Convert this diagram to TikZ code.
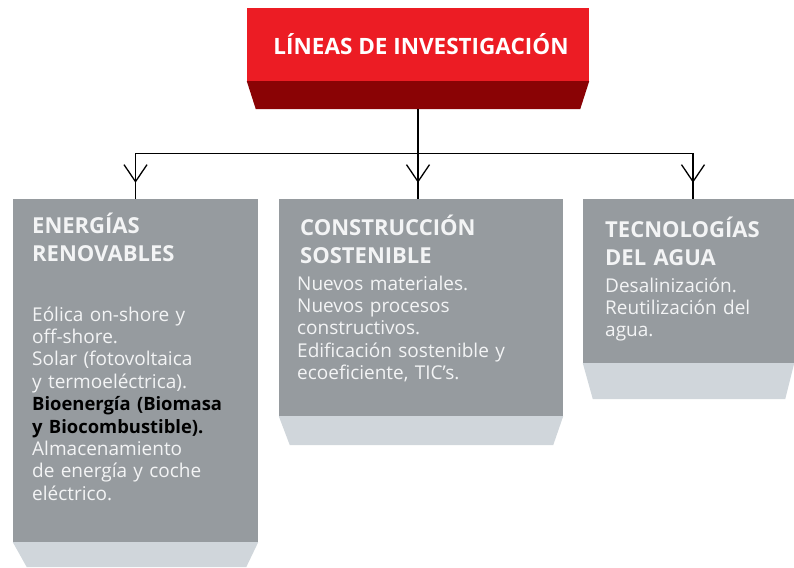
\documentclass[tikz,border=0pt]{standalone}
\usepackage{fontspec}
\setmainfont{Open Sans}
\usepackage{tikz}
\usetikzlibrary{arrows.meta, positioning, decorations.markings}
\definecolor{lineasred}{RGB}{236,28,36}
\definecolor{lineasdark}{RGB}{138,3,5}
\definecolor{boxgray}{RGB}{150,155,159}
\definecolor{boxlight}{RGB}{208,214,219}
\definecolor{boxtext}{RGB}{243,244,245}
\newcommand{\darkline}[1]{{\color{black}\fontsize{18.4}{22.4}\selectfont\bfseries #1}}

\begin{document}
\begin{tikzpicture}[x=1pt, y=-1pt,
    face/.style={fill=boxgray, inner sep=0pt},
    heading/.style={anchor=base west, inner sep=0pt, text width=240pt, align=left,
        text=boxtext, font=\fontsize{22}{28}\selectfont\bfseries},
    body/.style={anchor=base west, inner sep=0pt, text width=260pt, align=left,
        text=boxtext, font=\fontsize{19}{22.4}\selectfont},
    wire/.style={line width=1.3pt},
    drop/.style={wire, postaction={decorate}, decoration={markings,
        mark=at position -16pt with {\arrow[line width=1.3pt]{Straight Barb[length=17pt,width=23pt]}}}}
]
    \useasboundingbox (0,0) rectangle (794,567);

    % Title block
    \node[fill=lineasred, minimum width=342pt, minimum height=73pt, text=white,
        font=\fontsize{22.5}{26}\selectfont\bfseries] (lineas) at (418,44.5)
        {\hspace{6pt}LÍNEAS DE INVESTIGACIÓN};
    \fill[lineasdark] (lineas.south west) -- (lineas.south east) -- ++(-9,28)
        -- ([xshift=9pt,yshift=-28pt]lineas.south west) -- cycle;
    \coordinate (stemtop) at ([yshift=-28pt]lineas.south);

    % Boxes
    \node[face, minimum width=245pt, minimum height=343pt] (renov) at (135.5,370.5) {};
    \fill[boxlight] (renov.south west) -- (renov.south east) -- ++(-12,25)
        -- ([xshift=14pt,yshift=-25pt]renov.south west) -- cycle;

    \node[face, minimum width=284pt, minimum height=217pt] (constr) at (421,307.5) {};
    \fill[boxlight] (constr.south west) -- (constr.south east) -- ++(-10,29)
        -- ([xshift=11pt,yshift=-29pt]constr.south west) -- cycle;

    \node[face, minimum width=211pt, minimum height=164pt] (agua) at (688.5,281) {};
    \fill[boxlight] (agua.south west) -- (agua.south east) -- ++(-9,36)
        -- ([xshift=10pt,yshift=-36pt]agua.south west) -- cycle;

    % Texts
    \node[heading] (renovh) at (32,233) {ENERGÍAS\\RENOVABLES};
    \node[body] (renovb) at (32,321) {Eólica on-shore y\\off-shore.\\Solar (fotovoltaica\\y termoeléctrica).\\
        \darkline{Bioenergía (Biomasa}\\\darkline{y Biocombustible).}\\Almacenamiento\\de energía y coche\\eléctrico.};

    \node[heading] (constrh) at (300,235) {CONSTRUCCIÓN\\SOSTENIBLE};
    \node[body] (constrb) at (297,290) {Nuevos materiales.\\Nuevos procesos\\constructivos.\\Edificación sostenible y\\ecoeficiente, TIC’s.};

    \node[heading] (aguah) at (605,237) {TECNOLOGÍAS\\DEL AGUA};
    \node[body] (aguab) at (605,292) {Desalinización.\\Reutilización del\\agua.};

    % Connectors
    \coordinate (bus) at ([yshift=-44pt]stemtop);
    \draw[wire] (stemtop) -- (bus);
    \draw[drop] (bus) -| (renov.north);
    \draw[drop] (bus) -- (bus |- constr.north);
    \draw[drop] (bus) -| ([xshift=4.5pt]agua.north);
\end{tikzpicture}
\end{document}
